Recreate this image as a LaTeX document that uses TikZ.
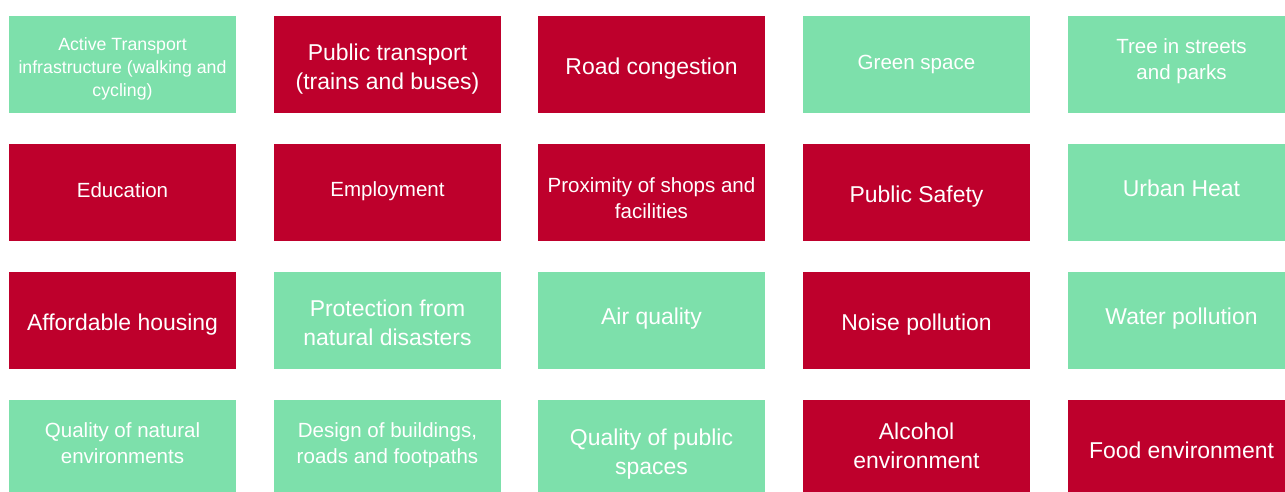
\documentclass[tikz,border=0pt]{standalone}
\usepackage{fontspec}
\setmainfont{Liberation Sans}
\definecolor{goodgreen}{RGB}{125,224,171}
\definecolor{badred}{RGB}{190,0,44}

\begin{document}
\begin{tikzpicture}[x=0.75pt, y=-0.75pt,
    cell/.style={text=white, align=center, inner sep=0pt},
    smalltxt/.style={font=\fontsize{13.3}{17.3}\selectfont},
    midtxt/.style={font=\fontsize{15.4}{19.5}\selectfont},
    bigtxt/.style={font=\fontsize{17.2}{21.8}\selectfont}]
    \useasboundingbox (0,0) rectangle (1285,492);
    % the boxes, row by row
    \foreach \cx/\cy/\clr in {122.5/64.5/goodgreen, 387.5/64.5/badred, 651.5/64.5/badred, 916.5/64.5/goodgreen, 1181.5/64.5/goodgreen,
        122.5/192.5/badred, 387.5/192.5/badred, 651.5/192.5/badred, 916.5/192.5/badred, 1181.5/192.5/goodgreen,
        122.5/320.5/badred, 387.5/320.5/goodgreen, 651.5/320.5/goodgreen, 916.5/320.5/badred, 1181.5/320.5/goodgreen,
        122.5/448.5/goodgreen, 387.5/448.5/goodgreen, 651.5/448.5/goodgreen, 916.5/448.5/badred, 1181.5/448.5/badred}
        \fill[\clr] (\cx-113.5,\cy-48.5) rectangle (\cx+113.5,\cy+48.5);
    \begin{scope}[every node/.style={cell}]
        % first row
        \node[smalltxt](active) at (122.5,68.8) {Active Transport\\infrastructure (walking and\\cycling)};
        \node[bigtxt](pubtrans) at (387.5,69.5) {Public transport\\(trains and buses)};
        \node[bigtxt](congest) at (651.5,68.5) {Road congestion};
        \node[midtxt](green) at (916.5,64.5) {Green space};
        \node[midtxt](trees) at (1181.5,61.5) {Tree in streets\\and parks};
        % second row
        \node[midtxt](educ) at (122.5,190.5) {Education};
        \node[midtxt](employ) at (387.5,191.5) {Employment};
        \node[midtxt](shops) at (651.5,198) {Proximity of shops and\\facilities};
        \node[bigtxt](safety) at (916.5,196.5) {Public Safety};
        \node[bigtxt](heat) at (1181.5,188.5) {Urban Heat};
        % third row
        \node[bigtxt](housing) at (122.5,324.5) {Affordable housing};
        \node[bigtxt](disaster) at (387.5,322.5) {Protection from\\natural disasters};
        \node[bigtxt](air) at (651.5,318.5) {Air quality};
        \node[bigtxt](noise) at (916.5,324.5) {Noise pollution};
        \node[bigtxt](water) at (1181.5,318.5) {Water pollution};
        % fourth row
        \node[midtxt](natural) at (122.5,443.5) {Quality of natural\\environments};
        \node[midtxt](design) at (387.5,445.5) {Design of buildings,\\roads and footpaths};
        \node[bigtxt](public) at (651.5,454) {Quality of public\\spaces};
        \node[bigtxt](alcohol) at (916.5,445.5) {Alcohol\\environment};
        \node[bigtxt](food) at (1181.5,450.5) {Food environment};
    \end{scope}
\end{tikzpicture}
\end{document}
